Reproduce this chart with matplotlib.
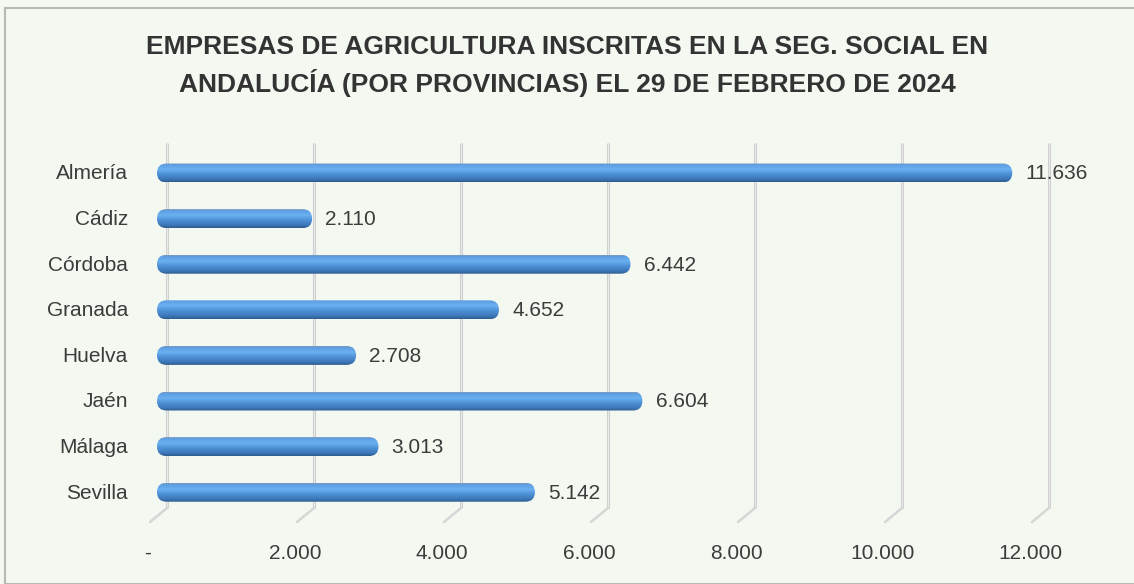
import numpy as np
import matplotlib.pyplot as plt
import matplotlib.transforms as mtransforms
from matplotlib.patches import FancyBboxPatch
from matplotlib.colors import LinearSegmentedColormap

provincias = ["Almería", "Cádiz", "Córdoba", "Granada", "Huelva", "Jaén", "Málaga", "Sevilla"]
empresas = [11636, 2110, 6442, 4652, 2708, 6604, 3013, 5142]
marcas = [0, 2000, 4000, 6000, 8000, 10000, 12000]
etiquetas_eje = ["-", "2.000", "4.000", "6.000", "8.000", "10.000", "12.000"]

titulo = ("EMPRESAS DE AGRICULTURA INSCRITAS EN LA SEG. SOCIAL EN\n"
          "ANDALUCÍA (POR PROVINCIAS) EL 29 DE FEBRERO DE 2024")

plt.rcParams["font.family"] = ["Liberation Sans", "DejaVu Sans"]

fondo = "#F3F8F1"
gris_texto = "#3C3C3C"

W, H = 1134, 584
fig = plt.figure(figsize=(W / 100, H / 100), dpi=100, facecolor=fondo)

# marco del grafico
borde = plt.Rectangle((5 / W, 0), 1.2, 1 - 8 / H, transform=fig.transFigure,
                      fill=False, edgecolor="#B8B8B8", linewidth=1.5)
fig.add_artist(borde)

# ejes en pixeles: 0 en x=157, 147 px por cada 2000
x0_px, esc = 157, 147 / 2000
izq, der = 130, 1100
arr, aba = 130, 530
ax = fig.add_axes([izq / W, 1 - aba / H, (der - izq) / W, (aba - arr) / H])
ax.set_facecolor("none")
fila0, paso = 173, 45.6
ax.set_xlim(-(x0_px - izq) / esc, -(x0_px - izq) / esc + (der - izq) / esc)
ax.set_ylim((aba - fila0) / paso, -(fila0 - arr) / paso)
ax.set_autoscale_on(False)
for s in ax.spines.values():
    s.set_visible(False)
ax.set_xticks([])
ax.set_yticks([])

# lineas de division con efecto 3D (pared de fondo desplazada)
pared = mtransforms.offset_copy(ax.transData, fig=fig, x=10, y=0, units="dots")
y_sup = -(fila0 - 143) / paso
y_inf = (508 - fila0) / paso
y_pie = (522 - fila0) / paso
for m in marcas:
    ax.plot([m, m], [y_sup, y_inf], color="#CFCFCF", lw=2.2, transform=pared,
            solid_capstyle="butt", zorder=1)
    ax.plot([m, m], [y_sup, y_inf], color="#E8E8E8", lw=0.8, transform=pared,
            solid_capstyle="butt", zorder=1)
    ax.annotate("", xy=(m - 7 / esc, y_pie), xytext=(m, y_inf), xycoords="data",
                textcoords=pared,
                arrowprops=dict(arrowstyle="-", color="#D6D6D6", lw=1.8,
                                shrinkA=0, shrinkB=0), zorder=1)

# barras cilindricas: degradado vertical recortado a una caja redondeada (en pixeles)
degradado = LinearSegmentedColormap.from_list(
    "cilindro", [(0.0, "#7E9BBB"), (0.08, "#5C9EE2"), (0.32, "#6BB1F1"),
                 (0.6, "#4C8ED4"), (0.85, "#3D77B8"), (1.0, "#2E5C8E")])
grad = np.linspace(0, 1, 64).reshape(-1, 1)
grosor_px = 19
alto = grosor_px / paso
for i, v in enumerate(empresas):
    (xa, yc), (xb, _) = ax.transData.transform([(0, i), (v, i)])
    caja = FancyBboxPatch((xa, yc - grosor_px / 2), xb - xa, grosor_px,
                          boxstyle=f"round,pad=0,rounding_size={grosor_px / 2}",
                          transform=mtransforms.IdentityTransform(),
                          facecolor="none", edgecolor="none", zorder=3)
    img = ax.imshow(grad, cmap=degradado, aspect="auto", interpolation="bilinear",
                    extent=(0, v, i + alto / 2, i - alto / 2), zorder=3)
    img.set_clip_path(caja)
    ax.text(v + 180, i + 0.02, f"{v:,}".replace(",", "."), va="center", ha="left",
            fontsize=15, color=gris_texto, zorder=4)

# nombres de provincias
for i, p in enumerate(provincias):
    ax.text(-(x0_px - 128) / esc, i + 0.02, p, ha="right", va="center",
            fontsize=15, color=gris_texto)

# etiquetas del eje x
y_lab = (553 - fila0) / paso
for m, t in zip(marcas, etiquetas_eje):
    ax.text(m - 9 / esc, y_lab, t, ha="center", va="center", fontsize=15,
            color=gris_texto)

fig.text(0.5, 1 - 66 / H, titulo, ha="center", va="center", fontsize=19,
         fontweight="bold", color="#333333", linespacing=1.45)

fig.savefig("out.png", dpi=100, facecolor=fondo)
